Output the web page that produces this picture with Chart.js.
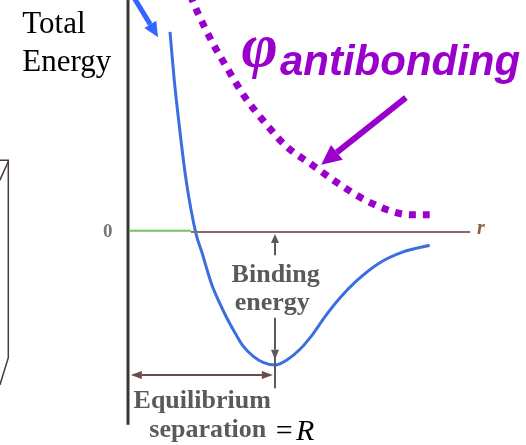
<!DOCTYPE html>
<html>
<head>
<meta charset="utf-8">
<script src="https://cdn.jsdelivr.net/npm/chart.js@4/dist/chart.umd.min.js"></script>
<style>
  html, body { margin: 0; padding: 0; background: #fff; }
  #wrap { width: 526px; height: 445px; }
</style>
</head>
<body>
<div id="wrap"><canvas id="chart" width="526" height="445"></canvas></div>
<script>
// r = nuclear separation, E = total energy (arbitrary units, E = 0 at large r)
const bondingR = [0.60, 0.66, 0.74, 0.83, 0.97, 1.06, 1.13, 1.20, 1.31, 1.41, 1.53, 1.64, 1.79, 1.93, 2.10, 2.29, 2.46, 2.63, 2.81, 3.03, 3.26, 3.57, 3.93, 4.31];
const bondingE = [3.01, 2.29, 1.53, 0.78, -0.02, -0.32, -0.57, -0.80, -1.07, -1.29, -1.52, -1.71, -1.87, -1.96, -2.00, -1.91, -1.76, -1.55, -1.28, -0.99, -0.74, -0.48, -0.30, -0.20];

const antiR = [0.89, 1.00, 1.20, 1.43, 1.67, 1.96, 2.26, 2.63, 2.99, 3.39, 3.80, 4.03, 4.31];
const antiE = [3.56, 3.29, 2.86, 2.44, 2.03, 1.64, 1.29, 1.01, 0.74, 0.48, 0.30, 0.26, 0.26];

// equilibrium separation R and binding energy (depth of the well)
const equilibriumR = 2.10;
const minEnergy = -2.00;
const rAxisEnd = 4.89;

const pairs = (xs, ys) => xs.map((x, i) => ({ x: x, y: ys[i] }));

// ===============================
// Arrows and labels of the figure
// ===============================

function arrow(ctx, x1, y1, x2, y2, color, width, headLen, headW) {
    const a = Math.atan2(y2 - y1, x2 - x1);
    const bx = x2 - Math.cos(a) * headLen;
    const by = y2 - Math.sin(a) * headLen;
    ctx.strokeStyle = color;
    ctx.fillStyle = color;
    ctx.lineWidth = width;
    ctx.beginPath();
    ctx.moveTo(x1, y1);
    ctx.lineTo(bx, by);
    ctx.stroke();
    ctx.beginPath();
    ctx.moveTo(x2, y2);
    ctx.lineTo(bx + Math.sin(a) * headW / 2, by - Math.cos(a) * headW / 2);
    ctx.lineTo(bx - Math.sin(a) * headW / 2, by + Math.cos(a) * headW / 2);
    ctx.closePath();
    ctx.fill();
}

const figureLabels = {
    id: "figureLabels",
    afterDatasetsDraw(chart) {
        const ctx = chart.ctx;
        const X = v => chart.scales.x.getPixelForValue(v);
        const Y = v => chart.scales.y.getPixelForValue(v);
        ctx.save();

        // overlay arrows
        arrow(ctx, X(0.07), Y(3.55), X(0.43), Y(2.93), "#3366ff", 5, 15, 14);
        arrow(ctx, X(3.97), Y(2.02), X(2.76), Y(1.01), "#9900cc", 6, 20, 19);

        // binding energy arrows
        const scan = "#5a5a5a";
        arrow(ctx, X(equilibriumR), Y(-0.35), X(equilibriumR), Y(-0.03), scan, 2, 9, 8);
        arrow(ctx, X(equilibriumR), Y(-1.29), X(equilibriumR), Y(minEnergy + 0.08), scan, 2, 10, 8);
        ctx.strokeStyle = scan;
        ctx.lineWidth = 2;
        ctx.beginPath();
        ctx.moveTo(X(equilibriumR), Y(-1.8));
        ctx.lineTo(X(equilibriumR), Y(-2.35));
        ctx.stroke();

        // equilibrium separation double arrow
        const sepE = -2.15;
        arrow(ctx, X(1.0), Y(sepE), X(equilibriumR - 0.03), Y(sepE), "#6b4b4b", 2, 11, 8);
        arrow(ctx, X(1.0), Y(sepE), X(0.04), Y(sepE), "#6b4b4b", 2, 11, 8);

        // texts
        ctx.textBaseline = "alphabetic";
        ctx.textAlign = "left";
        ctx.fillStyle = "#000";
        ctx.font = '31px "Liberation Serif"';
        ctx.fillText("Total", X(-1.51), Y(2.99));
        ctx.fillText("Energy", X(-1.51), Y(2.42));

        ctx.fillStyle = "#9900cc";
        ctx.font = 'bold italic 62px "Liberation Serif"';
        ctx.fillText("\u03c6", X(1.62), Y(2.50));
        ctx.font = 'bold italic 42px "Liberation Sans"';
        ctx.fillText("antibonding", X(2.17), Y(2.36));

        ctx.fillStyle = scan;
        ctx.textAlign = "center";
        ctx.font = 'bold 26px "Liberation Serif"';
        ctx.fillText("Binding", X(2.11), Y(-0.75));
        ctx.fillText("energy", X(2.06), Y(-1.17));
        ctx.fillText("Equilibrium", X(1.06), Y(-2.65));
        ctx.fillText("separation", X(1.14), Y(-3.08));

        ctx.textBaseline = "middle";
        ctx.fillStyle = "#777";
        ctx.font = 'bold 19px "Liberation Serif"';
        ctx.fillText("0", X(-0.29), Y(0));
        ctx.fillStyle = "#8a6040";
        ctx.font = 'bold italic 20px "Liberation Serif"';
        ctx.fillText("r", X(5.04), Y(0.05));

        ctx.textBaseline = "alphabetic";
        ctx.textAlign = "left";
        ctx.fillStyle = "#000";
        ctx.font = '30px "Liberation Serif"';
        ctx.fillText("=", X(2.11), Y(-3.13));
        ctx.font = 'italic 30px "Liberation Serif"';
        ctx.fillText("R", X(2.40), Y(-3.13));

        ctx.restore();
    }
};

new Chart(document.getElementById("chart"), {
    type: "scatter",
    data: {
        datasets: [
            {
                label: "box",
                data: [{ x: -1.83, y: 1.08 }, { x: -1.71, y: 1.08 }, { x: -1.71, y: -1.89 }, { x: -1.83, y: -2.30 }],
                showLine: true, borderColor: "#4a3a3a", borderWidth: 1.5, pointRadius: 0
            },
            {
                label: "box2",
                data: [{ x: -1.71, y: 1.06 }, { x: -1.83, y: 0.78 }],
                showLine: true, borderColor: "#4a3a3a", borderWidth: 1.5, pointRadius: 0
            },
            {
                label: "zero",
                data: [{ x: 0.9, y: 0 }, { x: rAxisEnd, y: 0 }],
                showLine: true, borderColor: "#8a6a72", borderWidth: 2, pointRadius: 0
            },
            {
                label: "zero green",
                data: [{ x: 0.02, y: 0.02 }, { x: 0.9, y: 0.02 }],
                showLine: true, borderColor: "#79c060", borderWidth: 2, pointRadius: 0
            },
            {
                label: "energy axis",
                data: [{ x: 0, y: 3.6 }, { x: 0, y: -2.9 }],
                showLine: true, borderColor: "#3a3535", borderWidth: 3, pointRadius: 0
            },
            {
                label: "antibonding",
                data: pairs(antiR, antiE),
                showLine: true, borderColor: "#9900cc", borderWidth: 7,
                borderDash: [7, 7], borderCapStyle: "butt",
                cubicInterpolationMode: "monotone", pointRadius: 0
            },
            {
                label: "bonding",
                data: pairs(bondingR, bondingE),
                showLine: true, borderColor: "#3b6fe0", borderWidth: 3,
                cubicInterpolationMode: "monotone", pointRadius: 0
            }
        ]
    },
    options: {
        responsive: false,
        animation: false,
        layout: { padding: 0 },
        plugins: {
            legend: { display: false },
            tooltip: { enabled: false }
        },
        scales: {
            x: { type: "linear", display: false, min: -1.8286, max: 5.6857 },
            y: { type: "linear", display: false, min: -3.2030, max: 3.4887 }
        }
    },
    plugins: [figureLabels]
});
</script>
</body>
</html>
